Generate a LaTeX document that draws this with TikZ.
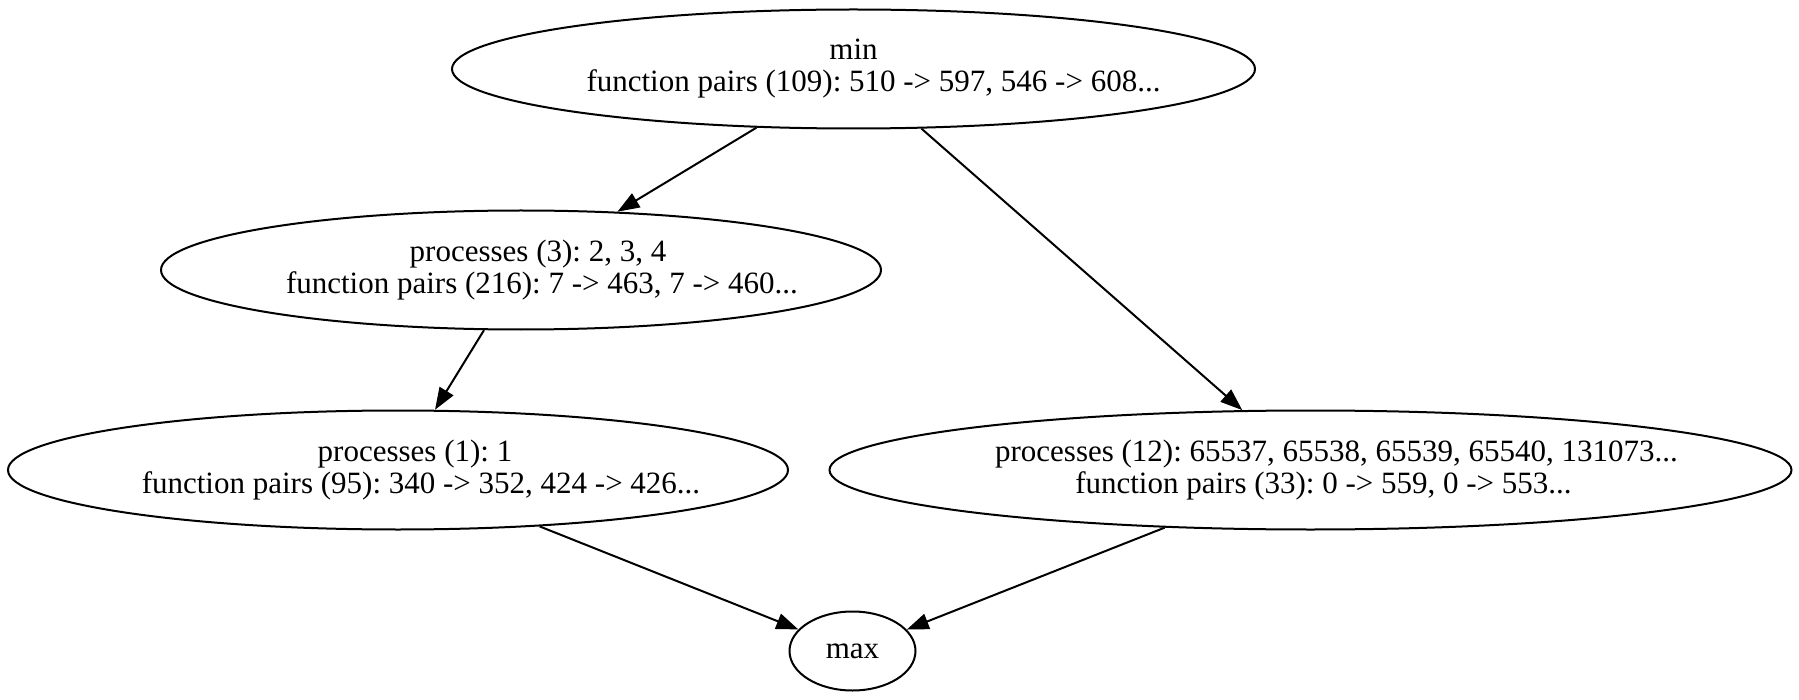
\documentclass[tikz,border=0pt]{standalone}
\usepackage{fontspec}
\setmainfont{Liberation Serif}
\usetikzlibrary{shapes.geometric,arrows.meta}
\newcommand{\gvshift}[1]{\hspace*{#1}}
\tikzset{
  gnode/.style={ellipse, draw, line width=1pt, inner xsep=-40pt, inner ysep=-12pt,
    align=center, font=\fontsize{15.5}{16}\selectfont\frenchspacing},
  gedge/.style={draw, line width=1pt, -{Triangle[length=11pt,width=8pt]}}
}
\begin{document}
\begin{tikzpicture}[x=0.5pt,y=-0.5pt]
\useasboundingbox (0,0) rectangle (1799,700);
\node[gnode, minimum width=401.5pt, minimum height=59.5pt] (min) at (853.5,69)
  {min\\\gvshift{20pt}function pairs (109): 510 -> 597, 546 -> 608...};
\node[gnode, minimum width=360pt, minimum height=59.5pt] (n3) at (521,270)
  {\gvshift{17pt}processes (3): 2, 3, 4\\\gvshift{21pt}function pairs (216): 7 -> 463, 7 -> 460...};
\node[gnode, minimum width=390pt, minimum height=59.5pt] (n1) at (398,470)
  {\gvshift{17pt}processes (1): 1\\\gvshift{23pt}function pairs (95): 340 -> 352, 424 -> 426...};
\node[gnode, minimum width=481pt, minimum height=59.5pt] (n12) at (1310.5,470)
  {\gvshift{26pt}processes (12): 65537, 65538, 65539, 65540, 131073...\\\gvshift{13pt}function pairs (33): 0 -> 559, 0 -> 553...};
\node[gnode, minimum width=63pt, minimum height=39.5pt] (max) at (852.5,651) {max};
\draw[gedge] (min) -- (n3);
\draw[gedge] (min) -- (n12);
\draw[gedge] (n3) -- (n1);
\draw[gedge] (n1) -- (max);
\draw[gedge] (n12) -- (max);
\end{tikzpicture}
\end{document}
